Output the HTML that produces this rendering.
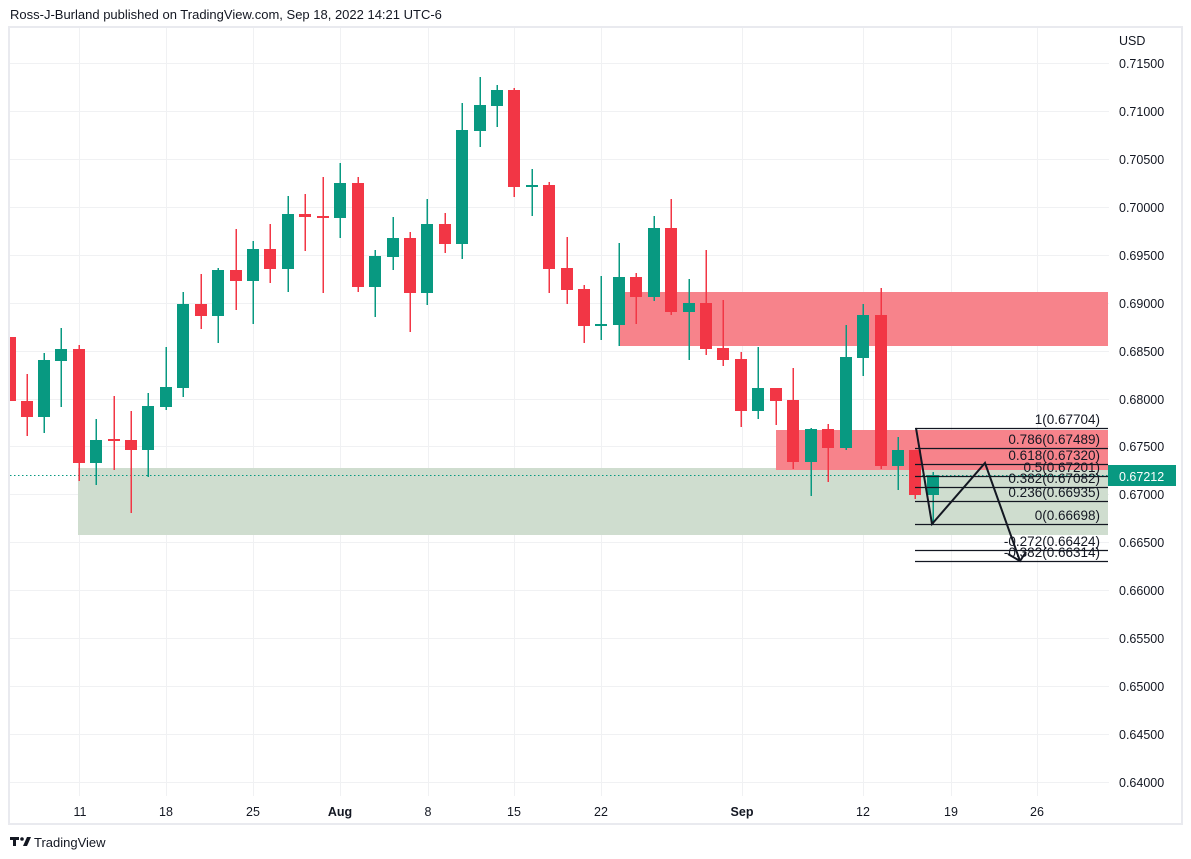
<!DOCTYPE html>
<html><head><meta charset="utf-8"><style>
html,body{margin:0;padding:0;background:#fff;width:1191px;height:859px;overflow:hidden}
svg{display:block}
text{font-family:"Liberation Sans",sans-serif}
</style></head><body>
<svg width="1191" height="859" viewBox="0 0 1191 859" xmlns="http://www.w3.org/2000/svg">
<text x="10" y="19" font-size="13" fill="#131722">Ross-J-Burland published on TradingView.com, Sep 18, 2022 14:21 UTC-6</text>
<rect x="9" y="27" width="1173" height="797" fill="none" stroke="#e9eaef" stroke-width="2"/>
<g stroke="#f0f1f3" stroke-width="1">
<line x1="10" x2="1109" y1="63.5" y2="63.5"/><line x1="10" x2="1109" y1="111.5" y2="111.5"/><line x1="10" x2="1109" y1="159.5" y2="159.5"/><line x1="10" x2="1109" y1="207.5" y2="207.5"/><line x1="10" x2="1109" y1="255.5" y2="255.5"/><line x1="10" x2="1109" y1="303.5" y2="303.5"/><line x1="10" x2="1109" y1="351.5" y2="351.5"/><line x1="10" x2="1109" y1="399.5" y2="399.5"/><line x1="10" x2="1109" y1="446.5" y2="446.5"/><line x1="10" x2="1109" y1="494.5" y2="494.5"/><line x1="10" x2="1109" y1="542.5" y2="542.5"/><line x1="10" x2="1109" y1="590.5" y2="590.5"/><line x1="10" x2="1109" y1="638.5" y2="638.5"/><line x1="10" x2="1109" y1="686.5" y2="686.5"/><line x1="10" x2="1109" y1="734.5" y2="734.5"/><line x1="10" x2="1109" y1="782.5" y2="782.5"/>
<line y1="28" y2="796" x1="79.5" x2="79.5"/><line y1="28" y2="796" x1="166.5" x2="166.5"/><line y1="28" y2="796" x1="253.5" x2="253.5"/><line y1="28" y2="796" x1="340.5" x2="340.5"/><line y1="28" y2="796" x1="428.5" x2="428.5"/><line y1="28" y2="796" x1="514.5" x2="514.5"/><line y1="28" y2="796" x1="601.5" x2="601.5"/><line y1="28" y2="796" x1="742.5" x2="742.5"/><line y1="28" y2="796" x1="863.5" x2="863.5"/><line y1="28" y2="796" x1="951.5" x2="951.5"/><line y1="28" y2="796" x1="1037.5" x2="1037.5"/>
</g>
<rect x="78" y="468" width="1030" height="67" fill="#cfddcf"/>
<rect x="619" y="292" width="489" height="54" fill="#f7838b"/>
<rect x="776" y="430" width="332" height="40" fill="#f7838b"/>
<line x1="10" x2="1108" y1="475.5" y2="475.5" stroke="#089981" stroke-width="1" stroke-dasharray="1.5,2.5"/>
<g shape-rendering="crispEdges" stroke-width="1.5">
<rect x="10" y="337" width="6" height="64" fill="#f23645"/>
<g fill="#f23645" stroke="#f23645">
<line x1="27" x2="27" y1="374" y2="436"/><rect x="21" y="401" width="12" height="16" stroke="none"/>
<line x1="79" x2="79" y1="345" y2="481"/><rect x="73" y="349" width="12" height="114" stroke="none"/>
<line x1="114" x2="114" y1="396" y2="470"/><rect x="108" y="439" width="12" height="2" stroke="none"/>
<line x1="131" x2="131" y1="411" y2="513"/><rect x="125" y="440" width="12" height="10" stroke="none"/>
<line x1="201" x2="201" y1="274" y2="329"/><rect x="195" y="304" width="12" height="12" stroke="none"/>
<line x1="236" x2="236" y1="229" y2="310"/><rect x="230" y="270" width="12" height="11" stroke="none"/>
<line x1="270" x2="270" y1="224" y2="283"/><rect x="264" y="249" width="12" height="20" stroke="none"/>
<line x1="305" x2="305" y1="194" y2="251"/><rect x="299" y="214" width="12" height="3" stroke="none"/>
<line x1="323" x2="323" y1="177" y2="293"/><rect x="317" y="216" width="12" height="2" stroke="none"/>
<line x1="358" x2="358" y1="177" y2="292"/><rect x="352" y="183" width="12" height="104" stroke="none"/>
<line x1="410" x2="410" y1="232" y2="332"/><rect x="404" y="238" width="12" height="55" stroke="none"/>
<line x1="445" x2="445" y1="213" y2="253"/><rect x="439" y="224" width="12" height="20" stroke="none"/>
<line x1="514" x2="514" y1="88" y2="197"/><rect x="508" y="90" width="12" height="97" stroke="none"/>
<line x1="549" x2="549" y1="182" y2="293"/><rect x="543" y="185" width="12" height="84" stroke="none"/>
<line x1="567" x2="567" y1="237" y2="304"/><rect x="561" y="268" width="12" height="22" stroke="none"/>
<line x1="584" x2="584" y1="285" y2="343"/><rect x="578" y="289" width="12" height="37" stroke="none"/>
<line x1="636" x2="636" y1="273" y2="324"/><rect x="630" y="277" width="12" height="20" stroke="none"/>
<line x1="671" x2="671" y1="199" y2="315"/><rect x="665" y="228" width="12" height="84" stroke="none"/>
<line x1="706" x2="706" y1="250" y2="355"/><rect x="700" y="303" width="12" height="46" stroke="none"/>
<line x1="723" x2="723" y1="300" y2="366"/><rect x="717" y="348" width="12" height="12" stroke="none"/>
<line x1="741" x2="741" y1="352" y2="427"/><rect x="735" y="359" width="12" height="52" stroke="none"/>
<line x1="776" x2="776" y1="388" y2="425"/><rect x="770" y="388" width="12" height="13" stroke="none"/>
<line x1="793" x2="793" y1="368" y2="469"/><rect x="787" y="400" width="12" height="62" stroke="none"/>
<line x1="828" x2="828" y1="424" y2="482"/><rect x="822" y="429" width="12" height="19" stroke="none"/>
<line x1="881" x2="881" y1="288" y2="469"/><rect x="875" y="315" width="12" height="151" stroke="none"/>
<line x1="915" x2="915" y1="450" y2="499"/><rect x="909" y="450" width="12" height="45" stroke="none"/>
</g>
<g fill="#089981" stroke="#089981">
<line x1="44" x2="44" y1="353" y2="433"/><rect x="38" y="360" width="12" height="57" stroke="none"/>
<line x1="61" x2="61" y1="328" y2="407"/><rect x="55" y="349" width="12" height="12" stroke="none"/>
<line x1="96" x2="96" y1="419" y2="485"/><rect x="90" y="440" width="12" height="23" stroke="none"/>
<line x1="148" x2="148" y1="393" y2="477"/><rect x="142" y="406" width="12" height="44" stroke="none"/>
<line x1="166" x2="166" y1="347" y2="410"/><rect x="160" y="387" width="12" height="20" stroke="none"/>
<line x1="183" x2="183" y1="292" y2="397"/><rect x="177" y="304" width="12" height="84" stroke="none"/>
<line x1="218" x2="218" y1="268" y2="343"/><rect x="212" y="270" width="12" height="46" stroke="none"/>
<line x1="253" x2="253" y1="241" y2="324"/><rect x="247" y="249" width="12" height="32" stroke="none"/>
<line x1="288" x2="288" y1="196" y2="292"/><rect x="282" y="214" width="12" height="55" stroke="none"/>
<line x1="340" x2="340" y1="163" y2="238"/><rect x="334" y="183" width="12" height="35" stroke="none"/>
<line x1="375" x2="375" y1="250" y2="317"/><rect x="369" y="256" width="12" height="31" stroke="none"/>
<line x1="393" x2="393" y1="217" y2="270"/><rect x="387" y="238" width="12" height="19" stroke="none"/>
<line x1="427" x2="427" y1="199" y2="305"/><rect x="421" y="224" width="12" height="69" stroke="none"/>
<line x1="462" x2="462" y1="103" y2="259"/><rect x="456" y="130" width="12" height="114" stroke="none"/>
<line x1="480" x2="480" y1="77" y2="147"/><rect x="474" y="105" width="12" height="26" stroke="none"/>
<line x1="497" x2="497" y1="85" y2="127"/><rect x="491" y="90" width="12" height="16" stroke="none"/>
<line x1="532" x2="532" y1="169" y2="216"/><rect x="526" y="185" width="12" height="2" stroke="none"/>
<line x1="601" x2="601" y1="276" y2="340"/><rect x="595" y="324" width="12" height="2" stroke="none"/>
<line x1="619" x2="619" y1="243" y2="346"/><rect x="613" y="277" width="12" height="48" stroke="none"/>
<line x1="654" x2="654" y1="216" y2="301"/><rect x="648" y="228" width="12" height="69" stroke="none"/>
<line x1="689" x2="689" y1="279" y2="360"/><rect x="683" y="303" width="12" height="9" stroke="none"/>
<line x1="758" x2="758" y1="347" y2="419"/><rect x="752" y="388" width="12" height="23" stroke="none"/>
<line x1="811" x2="811" y1="428" y2="496"/><rect x="805" y="429" width="12" height="33" stroke="none"/>
<line x1="846" x2="846" y1="325" y2="450"/><rect x="840" y="357" width="12" height="91" stroke="none"/>
<line x1="863" x2="863" y1="304" y2="376"/><rect x="857" y="315" width="12" height="43" stroke="none"/>
<line x1="898" x2="898" y1="437" y2="490"/><rect x="892" y="450" width="12" height="16" stroke="none"/>
<line x1="933" x2="933" y1="472" y2="525"/><rect x="927" y="475" width="12" height="20" stroke="none"/>
</g>
</g>
<g stroke="#131722" stroke-width="1.2">
<line x1="915" x2="1108" y1="428.5" y2="428.5"/><line x1="915" x2="1108" y1="448.5" y2="448.5"/><line x1="915" x2="1108" y1="464.5" y2="464.5"/><line x1="915" x2="1108" y1="476.5" y2="476.5"/><line x1="915" x2="1108" y1="487.5" y2="487.5"/><line x1="915" x2="1108" y1="501.5" y2="501.5"/><line x1="915" x2="1108" y1="524.5" y2="524.5"/><line x1="915" x2="1108" y1="550.5" y2="550.5"/><line x1="915" x2="1108" y1="561.5" y2="561.5"/>
</g>
<polyline points="916,428 932,524 985,463 1020,561" fill="none" stroke="#131722" stroke-width="2"/>
<polyline points="1008,554 1020,561 1026,552" fill="none" stroke="#131722" stroke-width="2"/>
<g font-size="13.5" fill="#131722" text-anchor="end">
<text x="1100" y="424">1(0.67704)</text>
<text x="1100" y="444">0.786(0.67489)</text>
<text x="1100" y="460">0.618(0.67320)</text>
<text x="1100" y="472">0.5(0.67201)</text>
<text x="1100" y="483">0.382(0.67082)</text>
<text x="1100" y="497">0.236(0.66935)</text>
<text x="1100" y="520">0(0.66698)</text>
<text x="1100" y="546">-0.272(0.66424)</text>
<text x="1100" y="557">-0.382(0.66314)</text>
</g>
<g font-size="12.5" fill="#131722">
<text x="1119" y="45">USD</text>
<text x="1119" y="68">0.71500</text><text x="1119" y="116">0.71000</text><text x="1119" y="164">0.70500</text><text x="1119" y="212">0.70000</text><text x="1119" y="260">0.69500</text><text x="1119" y="308">0.69000</text><text x="1119" y="356">0.68500</text><text x="1119" y="404">0.68000</text><text x="1119" y="451">0.67500</text><text x="1119" y="499">0.67000</text><text x="1119" y="547">0.66500</text><text x="1119" y="595">0.66000</text><text x="1119" y="643">0.65500</text><text x="1119" y="691">0.65000</text><text x="1119" y="739">0.64500</text><text x="1119" y="787">0.64000</text>
</g>
<rect x="1108" y="465" width="68" height="21" fill="#089981"/>
<text x="1119" y="481" font-size="12.5" fill="#fff">0.67212</text>
<g font-size="12.5" fill="#131722" text-anchor="middle">
<text x="80" y="816">11</text><text x="166" y="816">18</text><text x="253" y="816">25</text><text x="340" y="816" font-weight="bold">Aug</text><text x="428" y="816">8</text><text x="514" y="816">15</text><text x="601" y="816">22</text><text x="742" y="816" font-weight="bold">Sep</text><text x="863" y="816">12</text><text x="951" y="816">19</text><text x="1037" y="816">26</text>
</g>
<g fill="#131722">
<rect x="10" y="837" width="9" height="3"/><rect x="13" y="837" width="3" height="9"/>
<circle cx="22" cy="839" r="1.8"/><polygon points="23,846 27,837 31,837 27,846"/>
</g>
<text x="34" y="847" font-size="13" fill="#131722">TradingView</text>
</svg>
</body></html>
